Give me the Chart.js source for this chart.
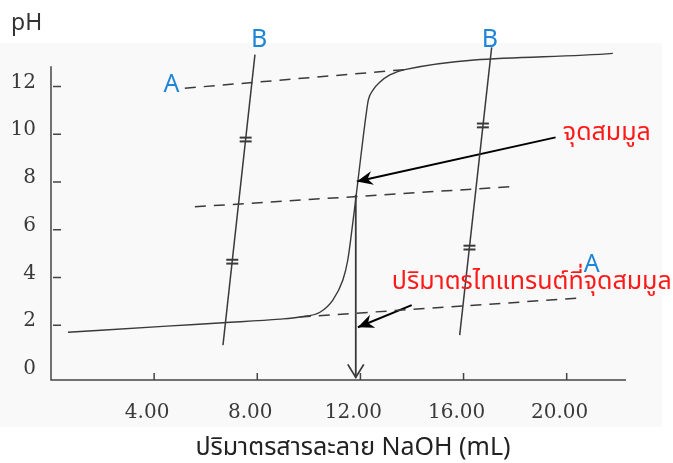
<!DOCTYPE html>
<html lang="th">
<head>
<meta charset="UTF-8">
<title>Titration curve</title>
<script src="https://cdn.jsdelivr.net/npm/chart.js"></script>
<style>
  body { margin: 0; background: #fff; }
  #wrap { width: 673px; height: 463px; }
</style>
</head>
<body>
<div id="wrap"><canvas id="titration" width="673" height="463"></canvas></div>
<script>
// titration curve: volume NaOH (mL) against pH
const curveVol = [0.66, 4.5, 6.67, 8.88, 9.65, 10.43, 10.93, 11.32, 11.51, 11.67, 11.83, 12.02, 12.22, 12.31, 12.50, 12.75, 13.14, 13.72, 21.79];
const curvePH  = [1.70, 1.96, 2.10, 2.25, 2.34, 2.54, 3.05, 3.89, 4.73, 5.99, 7.38, 9.10, 10.82, 11.45, 11.87, 12.18, 12.49, 12.71, 13.39];

// extended straight parts (A) and the middle line between them
const upperAVol = [5.19, 13.72];
const upperAPH = [11.93, 12.71];
const lowerAVol = [9.65, 20.43];
const lowerAPH = [2.34, 3.13];
const midVol = [5.58, 17.79];
const midPH = [6.96, 7.80];

// the two B lines and their equal-length marks
const leftBVol = [7.91, 6.67];
const leftBPH = [13.34, 1.16];
const rightBVol = [17.09, 15.85];
const rightBPH = [13.64, 1.58];
const markVol = [7.55, 7.55, 7.03, 7.03, 16.75, 16.75, 16.23, 16.23];
const markPH = [9.86, 9.70, 4.74, 4.58, 10.45, 10.29, 5.33, 5.17];

// arrows (start -> tip)
const eqArrowVol = [19.57, 11.86];
const eqArrowPH = [9.87, 8.02];
const volArrowVol = [13.99, 11.90];
const volArrowPH = [2.84, 1.91];
const dropVol = [11.82, 11.82];
const dropPH = [7.47, -0.19];

// letters (baseline) and notes (middle), anchored in data units
const letterText = ['A', 'A', 'B', 'B'];
const letterVol = [4.67, 20.97, 8.07, 17.02];
const letterPH = [11.79, 4.22, 13.64, 13.64];
const noteText = ['จุดสมมูล', 'ปริมาตรไทแทรนต์ที่จุดสมมูล'];
const noteVol = [19.85, 13.22];
const notePH = [9.99, 3.73];

const xTicks = [4, 8, 12, 16, 20];
const yTicks = [0, 2, 4, 6, 8, 10, 12];
const yAxisTop = 12.85;
const xTitle = 'ปริมาตรสารละลาย NaOH (mL)';
const yTitle = 'pH';

const thaiFont = "'Noto Sans Thai', 'Noto Sans Thai Looped', Tahoma, 'Noto Sans', sans-serif";

function pts(xs, ys) {
  return xs.map((x, i) => ({ x: x, y: ys[i] }));
}

function lineSet(xs, ys, extra) {
  return Object.assign({
    data: pts(xs, ys),
    showLine: true,
    pointRadius: 0,
    borderColor: '#3a3a3a',
    borderWidth: 1.5,
    clip: false
  }, extra || {});
}

const sketch = {
  id: 'sketch',
  beforeDraw(chart) {
    const ctx = chart.ctx;
    const x = chart.scales.x, y = chart.scales.y;
    ctx.save();
    ctx.fillStyle = '#fff';
    ctx.fillRect(0, 0, chart.width, chart.height);
    ctx.fillStyle = '#f9f9f9';
    ctx.fillRect(0, 43, 662, 384);

    // axis lines
    const x0 = x.getPixelForValue(0);
    ctx.strokeStyle = '#444';
    ctx.lineWidth = 1.5;
    ctx.beginPath();
    ctx.moveTo(x0, y.getPixelForValue(yAxisTop));
    ctx.lineTo(x0, y.bottom);
    ctx.lineTo(x.right, y.bottom);
    ctx.stroke();

    // small tick marks pointing into the plot
    ctx.beginPath();
    yTicks.filter(v => v > 0).forEach(v => {
      const py = y.getPixelForValue(v);
      ctx.moveTo(x0 + 2, py);
      ctx.lineTo(x0 + 10, py);
    });
    xTicks.forEach(v => {
      const px = x.getPixelForValue(v);
      ctx.moveTo(px, y.bottom);
      ctx.lineTo(px, y.bottom - 7);
    });
    ctx.stroke();

    // axis titles
    ctx.fillStyle = '#333';
    ctx.textBaseline = 'alphabetic';
    ctx.textAlign = 'left';
    ctx.font = "23px 'Noto Sans', sans-serif";
    ctx.fillText(yTitle, 11, 30);
    ctx.fillStyle = '#222';
    ctx.textAlign = 'center';
    ctx.font = '25px ' + thaiFont;
    ctx.fillText(xTitle, 353, 455);
    ctx.restore();
  },
  afterDatasetsDraw(chart) {
    const ctx = chart.ctx;
    const x = chart.scales.x, y = chart.scales.y;
    ctx.save();
    chart.data.datasets.forEach((ds, i) => {
      if (!ds.arrow) return;
      const el = chart.getDatasetMeta(i).data;
      const a = el[el.length - 2], b = el[el.length - 1];
      const ang = Math.atan2(b.y - a.y, b.x - a.x);
      ctx.save();
      ctx.translate(b.x, b.y);
      ctx.rotate(ang);
      ctx.fillStyle = ds.borderColor;
      ctx.strokeStyle = ds.borderColor;
      if (ds.arrow === 'solid') {
        ctx.beginPath();
        ctx.moveTo(0, 0);
        ctx.lineTo(-16, -7);
        ctx.lineTo(-11, 0);
        ctx.lineTo(-16, 7);
        ctx.closePath();
        ctx.fill();
      } else {
        ctx.lineWidth = 1.8;
        ctx.beginPath();
        ctx.moveTo(-13, -8);
        ctx.lineTo(0, 0);
        ctx.lineTo(-13, 8);
        ctx.stroke();
      }
      ctx.restore();
    });

    ctx.fillStyle = '#1e86d6';
    ctx.font = "25px 'Noto Sans', sans-serif";
    ctx.textAlign = 'center';
    ctx.textBaseline = 'alphabetic';
    letterText.forEach((t, i) => {
      ctx.fillText(t, x.getPixelForValue(letterVol[i]), y.getPixelForValue(letterPH[i]));
    });
    ctx.fillStyle = '#ff1a1a';
    ctx.font = '25px ' + thaiFont;
    ctx.textAlign = 'left';
    ctx.textBaseline = 'middle';
    noteText.forEach((t, i) => {
      ctx.fillText(t, x.getPixelForValue(noteVol[i]), y.getPixelForValue(notePH[i]));
    });
    ctx.restore();
  }
};

new Chart(document.getElementById('titration'), {
  type: 'scatter',
  data: {
    datasets: [
      lineSet(upperAVol, upperAPH, { borderDash: [11, 8] }),
      lineSet(lowerAVol, lowerAPH, { borderDash: [11, 8] }),
      lineSet(midVol, midPH, { borderDash: [11, 8] }),
      lineSet(leftBVol, leftBPH),
      lineSet(rightBVol, rightBPH),
      {
        data: pts(markVol, markPH),
        pointStyle: 'line',
        pointRadius: 6,
        borderColor: '#3a3a3a',
        borderWidth: 2,
        clip: false
      },
      lineSet(curveVol, curvePH, { cubicInterpolationMode: 'monotone', borderWidth: 1.4 }),
      lineSet(dropVol, dropPH, { arrow: 'open', borderWidth: 1.8 }),
      lineSet(eqArrowVol, eqArrowPH, { arrow: 'solid', borderColor: '#000', borderWidth: 2 }),
      lineSet(volArrowVol, volArrowPH, { arrow: 'solid', borderColor: '#000', borderWidth: 2 })
    ]
  },
  options: {
    responsive: false,
    animation: false,
    layout: { padding: { top: 46, right: 47, left: 0, bottom: 0 } },
    plugins: { legend: { display: false }, tooltip: { enabled: false } },
    scales: {
      x: {
        type: 'linear',
        min: 0,
        max: 22.3,
        grid: { display: false, drawTicks: false },
        border: { display: false },
        afterBuildTicks: s => { s.ticks = xTicks.map(v => ({ value: v })); },
        afterFit: s => { s.height = 83; },
        ticks: {
          padding: 21,
          labelOffset: -7,
          maxRotation: 0,
          autoSkip: false,
          color: '#3a3a3a',
          font: { family: "'DejaVu Serif', serif", size: 20 },
          callback: v => v.toFixed(2)
        }
      },
      y: {
        type: 'linear',
        min: -0.3,
        max: 13.7,
        grid: { display: false, drawTicks: false },
        border: { display: false },
        afterBuildTicks: s => { s.ticks = yTicks.map(v => ({ value: v })); },
        afterFit: s => { s.width = 51; },
        ticks: {
          padding: 15,
          labelOffset: -4,
          color: '#3a3a3a',
          font: { family: "'DejaVu Serif', serif", size: 20 }
        }
      }
    }
  },
  plugins: [sketch]
});
</script>
</body>
</html>
